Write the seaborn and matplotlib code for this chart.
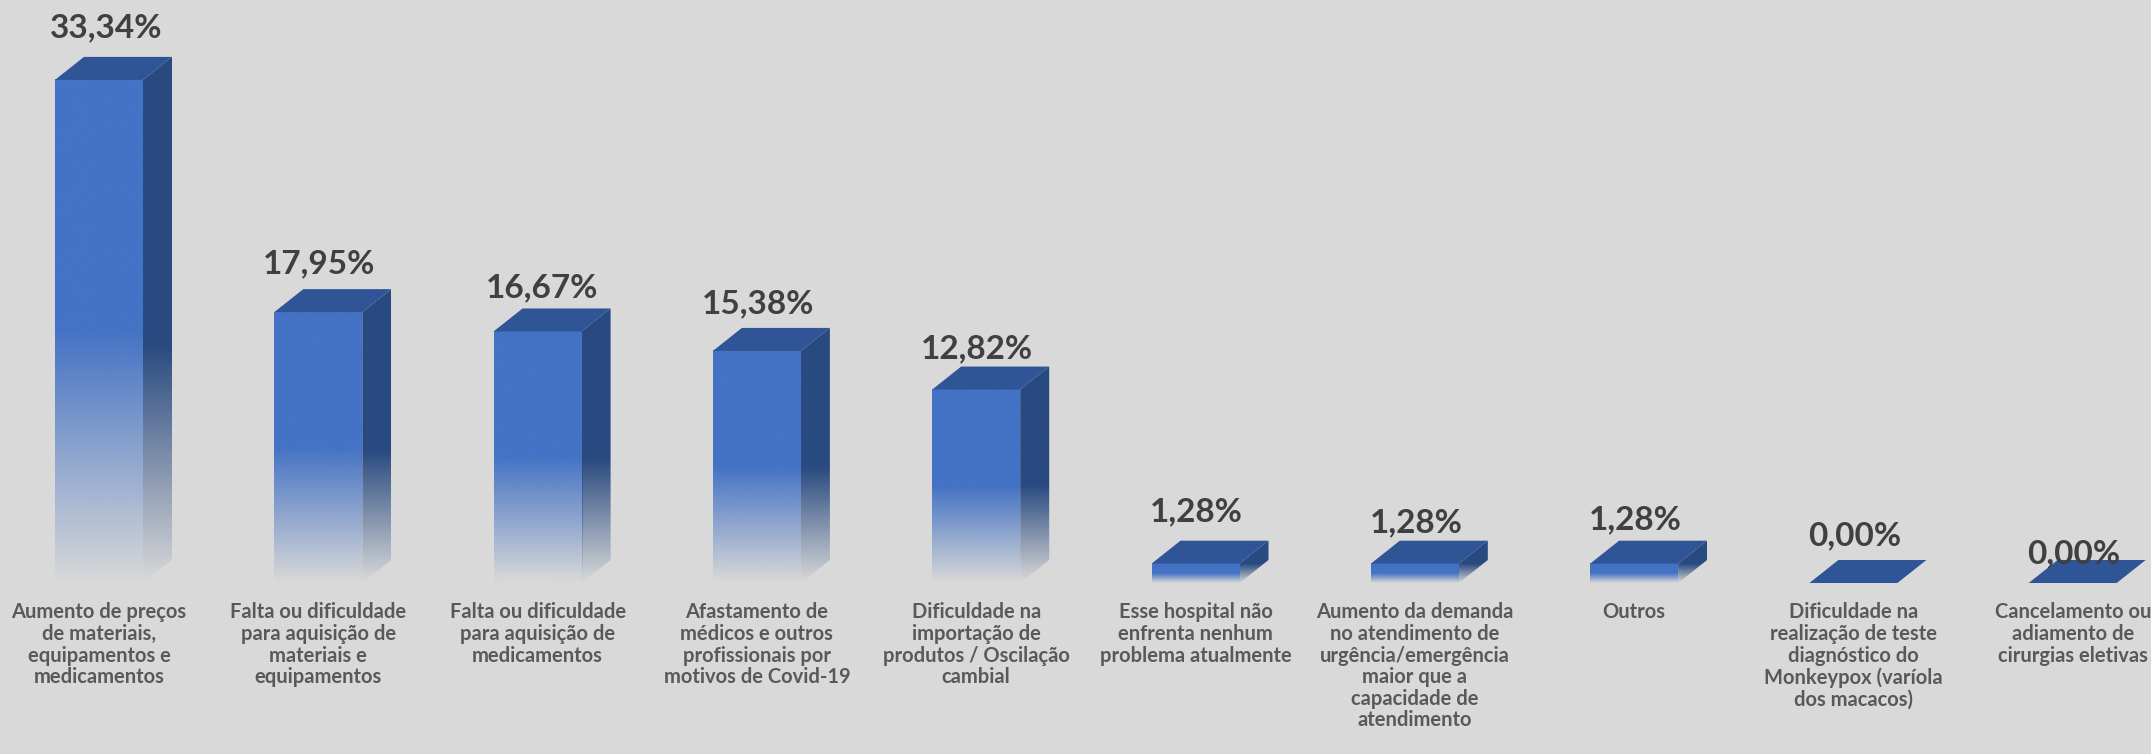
import numpy as np
import pandas as pd
import seaborn as sns
import matplotlib
matplotlib.use("Agg")
import matplotlib.pyplot as plt
from matplotlib.colors import to_rgb
from matplotlib.patches import Polygon

categories = [
    "Aumento de preços\nde materiais,\nequipamentos e\nmedicamentos",
    "Falta ou dificuldade\npara aquisição de\nmateriais e\nequipamentos",
    "Falta ou dificuldade\npara aquisição de\nmedicamentos",
    "Afastamento de\nmédicos e outros\nprofissionais por\nmotivos de Covid-19",
    "Dificuldade na\nimportação de\nprodutos / Oscilação\ncambial",
    "Esse hospital não\nenfrenta nenhum\nproblema atualmente",
    "Aumento da demanda\nno atendimento de\nurgência/emergência\nmaior que a\ncapacidade de\natendimento",
    "Outros",
    "Dificuldade na\nrealização de teste\ndiagnóstico do\nMonkeypox (varíola\ndos macacos)",
    "Cancelamento ou\nadiamento de\ncirurgias eletivas",
]
values = [33.34, 17.95, 16.67, 15.38, 12.82, 1.28, 1.28, 1.28, 0.00, 0.00]
value_labels = ["33,34%", "17,95%", "16,67%", "15,38%", "12,82%",
                "1,28%", "1,28%", "1,28%", "0,00%", "0,00%"]

# label offsets from the centre of each bar's front top edge, in pixels
label_dx = [7, 1, 4, 1, 1, 1, 1, 1, 1, 1]
label_dy = [52, 48, 44, 47, 41, 52, 41, 44, 47, 29]

BG = "#D9D9D9"
FRONT = "#4472C4"
SIDE = "#294A80"
TOP = "#2F5597"
W, H, DPI = 2151, 754, 100
BASE_PX = 583
PX_PER_UNIT = 15.09
STEP_PX = 219.3
FIRST_PX = 99
DEPTH_X, DEPTH_Y = 29, 23

sns.set_theme(style="white", rc={"figure.facecolor": BG, "axes.facecolor": BG})
plt.rcParams["font.family"] = ["Lato", "DejaVu Sans"]

fig = plt.figure(figsize=(W / DPI, H / DPI), dpi=DPI, facecolor=BG)
ax = fig.add_axes([0, (H - BASE_PX) / H, 1, BASE_PX / H])
ax.set_facecolor(BG)

df = pd.DataFrame({"cat": categories, "val": values})
sns.barplot(data=df, x="cat", y="val", order=categories, color=FRONT,
            width=88 / STEP_PX, saturation=1, ax=ax, zorder=2)

xlim = (-FIRST_PX / STEP_PX, (W - FIRST_PX) / STEP_PX)
ylim = (0, BASE_PX / PX_PER_UNIT)
ax.set_xlim(xlim)
ax.set_ylim(ylim)
ddx = DEPTH_X / STEP_PX
ddy = DEPTH_Y / PX_PER_UNIT


def gradient(color, stop):
    t = np.linspace(0, 1, 400)  # 0 = top, 1 = bottom
    a = np.where(t < stop, 1.0, 1.0 - (t - stop) / (1 - stop))
    img = np.ones((400, 1, 4))
    img[..., :3] = to_rgb(color)
    img[..., 3] = a[:, None]
    return img


for patch, val, vlab, dx, dy in zip(list(ax.patches), values, value_labels, label_dx, label_dy):
    x0, w = patch.get_x(), patch.get_width()
    x1 = x0 + w
    patch.set_facecolor("none")
    patch.set_edgecolor("none")
    if val > 0:
        im = ax.imshow(gradient(FRONT, 0.5), extent=(x0, x1, 0, val), aspect="auto",
                       zorder=3, interpolation="bilinear", clip_on=True)
        side = Polygon([(x1, 0), (x1 + ddx, ddy), (x1 + ddx, val + ddy), (x1, val)],
                       closed=True, fc="none", ec="none", transform=ax.transData)
        ax.add_patch(side)
        im2 = ax.imshow(gradient(SIDE, 0.55), extent=(x1, x1 + ddx, 0, val + ddy), aspect="auto",
                        zorder=3, interpolation="bilinear")
        im2.set_clip_path(side)
    top = Polygon([(x0, val), (x0 + ddx, val + ddy), (x1 + ddx, val + ddy), (x1, val)],
                  closed=True, fc=TOP, ec="none", zorder=3, clip_on=False)
    ax.add_patch(top)
    ax.annotate(vlab, xy=(x0 + w / 2, val), xytext=(dx * 72 / DPI, dy * 72 / DPI),
                textcoords="offset points", ha="center", va="center",
                fontsize=24, fontweight="bold", color="#404040", zorder=5,
                annotation_clip=False)

ax.set_xlim(xlim)
ax.set_ylim(ylim)
ax.set_xlabel("")
ax.set_ylabel("")
ax.set_yticks([])
ax.tick_params(axis="x", length=0, pad=14)
ax.set_xticks(range(len(categories)))
ax.set_xticklabels(categories, fontsize=14.5, fontweight="bold", color="#595959",
                   linespacing=1.1, ha="center", va="top")
sns.despine(ax=ax, left=True, bottom=True)

fig.savefig("out.png", dpi=DPI, facecolor=BG)
